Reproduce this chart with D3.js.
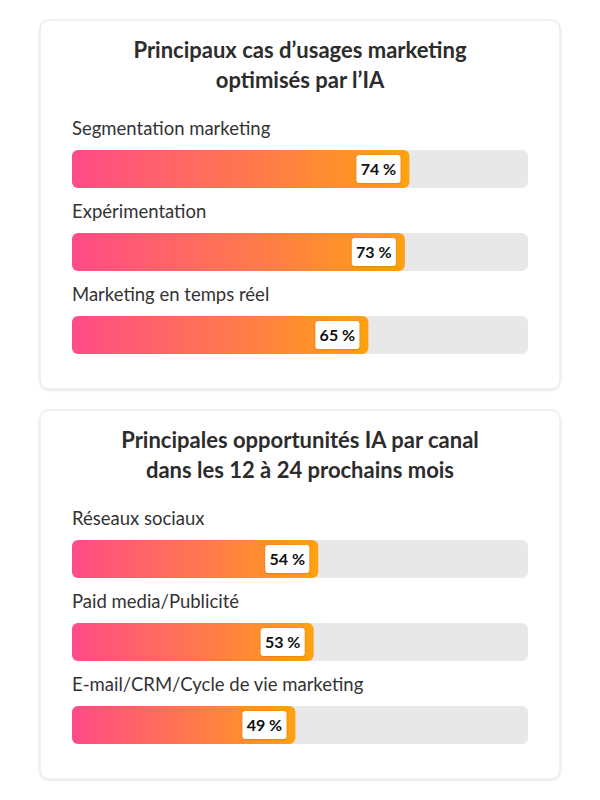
<!DOCTYPE html>
<html>
<head>
<meta charset="utf-8">
<script src="https://cdn.jsdelivr.net/npm/d3@7"></script>
<style>
  body { margin: 0; background: #ffffff; }
  svg { display: block; font-family: Lato, "Noto Sans", sans-serif; }
</style>
</head>
<body>
<div id="chart"></div>
<script>
// Chart data
var titles1 = ["Principaux cas d\u2019usages marketing", "optimisés par l\u2019IA"];
var categories1 = ["Segmentation marketing", "Expérimentation", "Marketing en temps réel"];
var values1 = [74, 73, 65];

var titles2 = ["Principales opportunités IA par canal", "dans les 12 à 24 prochains mois"];
var categories2 = ["Réseaux sociaux", "Paid media/Publicité", "E-mail/CRM/Cycle de vie marketing"];
var values2 = [54, 53, 49];

var svgWidth = 600;
var svgHeight = 800;

var svg = d3.select("#chart")
  .append("svg")
  .attr("width", svgWidth)
  .attr("height", svgHeight);

var defs = svg.append("defs");

// shadow for the cards
var shadow = defs.append("filter")
  .attr("id", "cardShadow")
  .attr("x", "-5%").attr("y", "-5%")
  .attr("width", "110%").attr("height", "110%");
shadow.append("feDropShadow")
  .attr("dx", 0).attr("dy", 1)
  .attr("stdDeviation", 1.5)
  .attr("flood-color", "#000")
  .attr("flood-opacity", 0.12);

var labelShadow = defs.append("filter")
  .attr("id", "labelShadow")
  .attr("x", "-20%").attr("y", "-20%")
  .attr("width", "140%").attr("height", "140%");
labelShadow.append("feDropShadow")
  .attr("dx", 0).attr("dy", 0.5)
  .attr("stdDeviation", 0.8)
  .attr("flood-color", "#000")
  .attr("flood-opacity", 0.2);

// gradient for the bars
var grad = defs.append("linearGradient")
  .attr("id", "barGradient")
  .attr("x1", "0%").attr("x2", "100%")
  .attr("y1", "0%").attr("y2", "0%");
grad.append("stop").attr("offset", "0%").attr("stop-color", "#ff4b87");
grad.append("stop").attr("offset", "55%").attr("stop-color", "#ff7a4c");
grad.append("stop").attr("offset", "100%").attr("stop-color", "#ffa20f");

// shared x scale
var xScale = d3.scaleLinear()
  .domain([0, 100])
  .range([72, 528]);

function drawPanel(top, titles, categories, values) {
  var g = svg.append("g")
    .attr("transform", `translate(0, ${top})`);

  // card
  g.append("rect")
    .attr("x", 40)
    .attr("y", 0)
    .attr("width", 520)
    .attr("height", 369)
    .attr("rx", 9)
    .attr("fill", "#fff")
    .attr("stroke", "#e4e4e4")
    .attr("stroke-width", 1)
    .attr("filter", "url(#cardShadow)");

  // title
  g.selectAll("text.title")
    .data(titles)
    .enter()
    .append("text")
    .classed("title", true)
    .attr("x", 300)
    .attr("y", (d, i) => 38 + i * 30)
    .attr("text-anchor", "middle")
    .attr("font-size", "22px")
    .attr("font-weight", 700)
    .attr("fill", "#2c2c2c")
    .text(d => d);

  var yScale = d3.scaleBand()
    .domain(categories)
    .range([110, 110 + 83 * categories.length]);

  var rows = g.selectAll("g.row")
    .data(categories)
    .enter()
    .append("g")
    .classed("row", true)
    .attr("transform", d => `translate(0, ${yScale(d)})`);

  // category labels
  rows.append("text")
    .attr("x", xScale(0))
    .attr("y", 5)
    .attr("font-size", "18.5px")
    .attr("fill", "#333")
    .text(d => d);

  // track
  rows.append("rect")
    .attr("x", xScale(0))
    .attr("y", 20)
    .attr("width", xScale(100) - xScale(0))
    .attr("height", 38)
    .attr("rx", 6)
    .attr("fill", "#e8e8e8");

  // fill
  rows.append("rect")
    .attr("x", xScale(0))
    .attr("y", 20)
    .attr("width", (d, i) => xScale(values[i]) - xScale(0))
    .attr("height", 38)
    .attr("rx", 6)
    .attr("fill", "url(#barGradient)");

  // value label box
  rows.append("rect")
    .attr("x", (d, i) => xScale(values[i]) - 53)
    .attr("y", 25)
    .attr("width", 44)
    .attr("height", 28)
    .attr("rx", 3)
    .attr("fill", "#fff")
    .attr("filter", "url(#labelShadow)");

  rows.append("text")
    .attr("x", (d, i) => xScale(values[i]) - 31)
    .attr("y", 44.5)
    .attr("text-anchor", "middle")
    .attr("font-size", "16px")
    .attr("font-weight", 700)
    .attr("fill", "#111")
    .text((d, i) => values[i] + " %");
}

drawPanel(20, titles1, categories1, values1);
drawPanel(410, titles2, categories2, values2);
</script>
</body>
</html>
